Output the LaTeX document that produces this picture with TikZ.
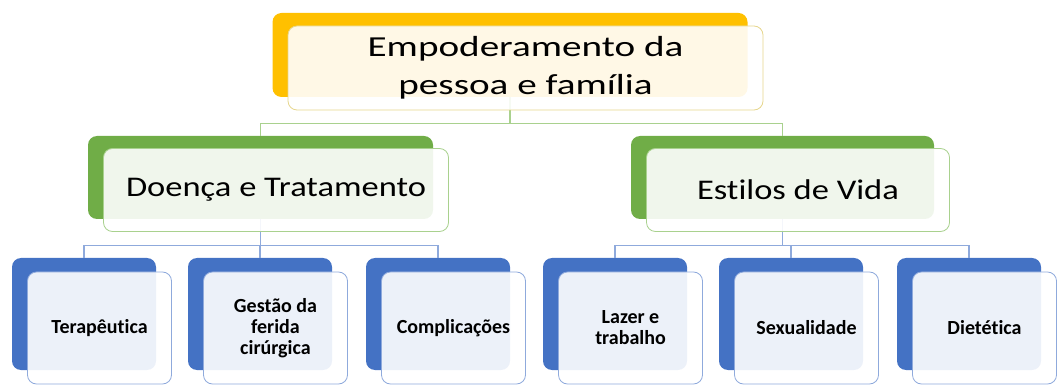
\documentclass[tikz,border=0pt]{standalone}
\usepackage{fontspec}
\setmainfont[Ligatures=NoCommon]{Carlito}
\newfontfamily\bigfont[FakeStretch=1.35,Ligatures=NoCommon]{Carlito}
\newfontfamily\midfont[FakeStretch=1.21,Ligatures=NoCommon]{Carlito}

\definecolor{gold}{HTML}{FFC000}
\definecolor{leaf}{HTML}{70AD47}
\definecolor{sky}{HTML}{4472C4}
\definecolor{goldline}{HTML}{E6D68C}
\definecolor{leafline}{HTML}{A9D18E}
\definecolor{skyline}{HTML}{8FAADC}

\begin{document}
\begin{tikzpicture}[x=1pt,y=-1pt]
	\tikzstyle{back}=[rounded corners=9pt,inner sep=0pt]
	\tikzstyle{front}=[draw,rounded corners=9pt,fill=white,fill opacity=0.9,text opacity=1,inner sep=0pt,align=center,line width=0.8pt]
	\tikzstyle{topbox}=[minimum width=475pt,minimum height=84pt]
	\tikzstyle{midbox}=[minimum height=83pt]
	\tikzstyle{lowbox}=[minimum width=144pt,minimum height=112pt]
	\tikzstyle{link}=[line width=1.1pt]
	\tikzstyle{bigtext}=[font=\bigfont\fontsize{29}{38}\selectfont]
	\tikzstyle{midtext}=[font=\midfont\fontsize{28.5}{34}\selectfont]
	\tikzstyle{lowtext}=[font=\bfseries\fontsize{20}{21}\selectfont]

  \useasboundingbox (0,0) rectangle (1057,387);

  % coloured backs
  \node[back,topbox,fill=gold]            (A) at (510,55)    {};
  \node[back,midbox,fill=leaf,minimum width=345pt] (B) at (260.5,177.5) {};
  \node[back,midbox,fill=leaf,minimum width=303pt] (C) at (782.5,177.5) {};
  \node[back,lowbox,fill=sky]             (D) at (84,314)    {};
  \node[back,lowbox,fill=sky]             (E) at (260,314)   {};
  \node[back,lowbox,fill=sky]             (F) at (438,314)   {};
  \node[back,lowbox,fill=sky]             (G) at (615,314)   {};
  \node[back,lowbox,fill=sky]             (H) at (791,314)   {};
  \node[back,lowbox,fill=sky]             (I) at (969,314)   {};

  % links
  \draw[link,leafline] (A.south) -- ++(0,26) -| (B.north);
  \draw[link,leafline] (A.south) -- ++(0,26) -| (C.north);
  \draw[link,skyline] (B.south) -- ++(0,26) -| (D.north);
  \draw[link,skyline] (B.south) -- ++(0,26) -| (E.north);
  \draw[link,skyline] (B.south) -- ++(0,26) -| (F.north);
  \draw[link,skyline] (C.south) -- ++(0,26) -| (G.north);
  \draw[link,skyline] (C.south) -- ++(0,26) -| (H.north);
  \draw[link,skyline] (C.south) -- ++(0,26) -| (I.north);

  % light fronts
  \node[front,topbox,bigtext,draw=goldline] (Ax) at ([shift={(15.5,13)}]A.center) {Empoderamento da\\pessoa e família};
  \node[front,midbox,midtext,draw=leafline,minimum width=345pt] (Bx) at ([shift={(15.5,12.5)}]B.center) {Doença e Tratamento};
  \node[front,midbox,midtext,draw=leafline,minimum width=303pt] (Cx) at ([shift={(15.5,12.5)}]C.center) {Estilos de Vida};
  \node[front,lowbox,lowtext,draw=skyline] (Dx) at ([shift={(15.5,14)}]D.center) {Terapêutica};
  \node[front,lowbox,lowtext,draw=skyline] (Ex) at ([shift={(15.5,14)}]E.center) {Gestão da\\ferida\\cirúrgica};
  \node[front,lowbox,lowtext,draw=skyline] (Fx) at ([shift={(15.5,14)}]F.center) {Complicações};
  \node[front,lowbox,lowtext,draw=skyline] (Gx) at ([shift={(15.5,14)}]G.center) {Lazer e\\trabalho};
  \node[front,lowbox,lowtext,draw=skyline] (Hx) at ([shift={(15.5,14)}]H.center) {Sexualidade};
  \node[front,lowbox,lowtext,draw=skyline] (Ix) at ([shift={(15.5,14)}]I.center) {Dietética};

\end{tikzpicture}
\end{document}
